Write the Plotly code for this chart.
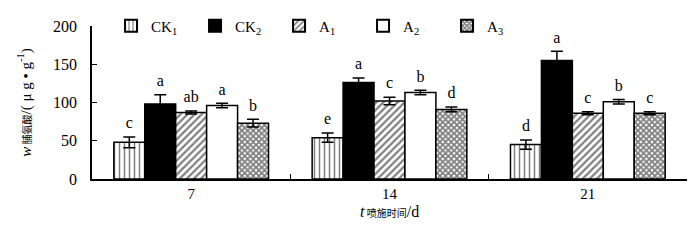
import plotly.graph_objects as go

categories = ["7", "14", "21"]
series_names = ["CK<sub>1</sub>", "CK<sub>2</sub>", "A<sub>1</sub>", "A<sub>2</sub>", "A<sub>3</sub>"]
ck1 = [48, 54, 45]
ck2 = [98, 126, 155]
a1 = [87, 102, 86]
a2 = [96, 113, 101]
a3 = [73, 91, 86]
ck1_err = [7, 6, 6]
ck2_err = [12, 6, 12]
a1_err = [2, 5, 2]
a2_err = [3, 3, 3]
a3_err = [5, 3, 2]
ck1_sig = ["c", "e", "d"]
ck2_sig = ["a", "a", "a"]
a1_sig = ["ab", "c", "c"]
a2_sig = ["a", "b", "b"]
a3_sig = ["b", "d", "c"]
x_title = "<i>t</i><span style='font-family:Noto Sans CJK SC;font-size:10px'> 喷施时间</span>/d"
y_title = "<i>w</i><span style='font-family:Noto Sans CJK SC;font-size:10px'> 脯氨酸</span>/( μ g • g<sup>-1</sup>)"

values = [ck1, ck2, a1, a2, a3]
errors = [ck1_err, ck2_err, a1_err, a2_err, a3_err]
sigs = [ck1_sig, ck2_sig, a1_sig, a2_sig, a3_sig]

patterns = [
    dict(shape="|", size=5, solidity=0.3, fgcolor="black", bgcolor="white", fillmode="overlay"),
    dict(shape="", fgcolor="black"),
    dict(shape="/", size=5, solidity=0.45, fgcolor="black", bgcolor="white", fillmode="overlay"),
    dict(shape="", fgcolor="white"),
    dict(shape="x", size=4, solidity=0.7, fgcolor="black", bgcolor="white", fillmode="overlay"),
]
colors = ["white", "black", "white", "white", "white"]

serif = "Liberation Serif, Times New Roman, serif"
fig = go.Figure()
for i in range(5):
    fig.add_trace(go.Bar(
        x=categories, y=values[i], name=series_names[i],
        marker=dict(color=colors[i], line=dict(color="black", width=1.5), pattern=patterns[i]),
        error_y=dict(type="data", array=errors[i], visible=True, color="black", thickness=1.5, width=6),
        offsetgroup=str(i),
    ))
for i in range(5):
    fig.add_trace(go.Scatter(
        x=categories, y=[v + e for v, e in zip(values[i], errors[i])],
        text=sigs[i], mode="markers+text", textposition="top center",
        marker=dict(size=6, color="rgba(0,0,0,0)"),
        textfont=dict(family=serif, size=16, color="black"),
        offsetgroup=str(i), showlegend=False, hoverinfo="skip",
    ))

fig.add_annotation(text=x_title, xref="paper", yref="paper", x=0.5, y=-0.215,
                   xanchor="center", yanchor="middle", showarrow=False,
                   font=dict(family=serif, size=16, color="black"))

fig.update_layout(
    width=692, height=233,
    margin=dict(l=84, r=13, t=18, b=62, autoexpand=False),
    paper_bgcolor="white", plot_bgcolor="white",
    barmode="group", bargap=0.22, bargroupgap=0,
    scattermode="group", scattergap=0.22,
    font=dict(family=serif, size=14, color="black"),
    showlegend=True,
    legend=dict(orientation="h", x=0.032, y=1.0, xanchor="left", yanchor="middle",
                entrywidth=39, entrywidthmode="pixels",
                font=dict(family=serif, size=15), bgcolor="rgba(0,0,0,0)",
                itemsizing="constant"),
    xaxis=dict(type="category", showline=True, linecolor="black", linewidth=1.5,
               ticks="inside", tickson="boundaries", ticklen=5, tickcolor="black",
               tickfont=dict(family=serif, size=15), ticklabelstandoff=0),
    yaxis=dict(range=[0, 200], dtick=50, showline=True, linecolor="black", linewidth=1.5,
               ticks="inside", ticklen=5, tickcolor="black", showgrid=False, zeroline=False,
               tickfont=dict(family=serif, size=16), ticklabelstandoff=10,
               title=dict(text=y_title, font=dict(family=serif, size=15), standoff=18)),
)
fig.write_html("out.html")
